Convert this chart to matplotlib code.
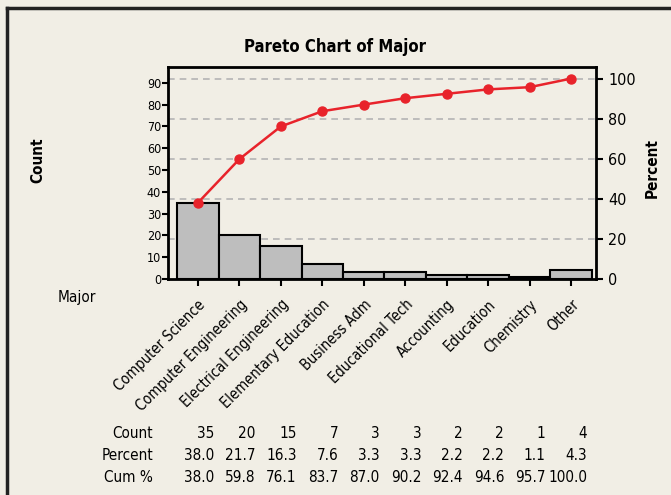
import matplotlib
matplotlib.use("Agg")
import matplotlib.pyplot as plt
import numpy as np

majors = ["Computer Science", "Computer Engineering", "Electrical Engineering",
          "Elementary Education", "Business Adm", "Educational Tech",
          "Accounting", "Education", "Chemistry", "Other"]
counts = [35, 20, 15, 7, 3, 3, 2, 2, 1, 4]
percent = [38.0, 21.7, 16.3, 7.6, 3.3, 3.3, 2.2, 2.2, 1.1, 4.3]
cum_pct = [38.0, 59.8, 76.1, 83.7, 87.0, 90.2, 92.4, 94.6, 95.7, 100.0]

plt.rcParams['font.family'] = ['DejaVu Sans']
plt.rcParams['font.stretch'] = 'condensed'
bg = "#f1eee5"
red = "#e8232b"

fig = plt.figure(figsize=(6.71, 4.95), dpi=100, facecolor=bg)
ax = fig.add_axes([0.2504, 0.4364, 0.6378, 0.4282])

total = sum(counts)
x = np.arange(len(counts))
ax.bar(x, counts, width=1.0, color="#bebebe", edgecolor="black", linewidth=1.5, zorder=2)
ax.set_xlim(-0.72, 9.6)
ymax = 97.3
ax.set_ylim(0, ymax)
ax.set_yticks(range(0, 91, 10))
ax.tick_params(axis="y", labelsize=9, length=4, width=1.5, pad=1)
ax.set_xticks(x)
ax.set_xticklabels(majors, rotation=45, ha="right", va="top", rotation_mode="anchor", fontsize=10.5)
ax.tick_params(axis="x", length=5, width=1.5, pad=8)
for s in ax.spines.values():
    s.set_linewidth(2)

ax2 = ax.twinx()
ax2.set_ylim(0, ymax / total * 100)
ax2.set_yticks(range(0, 101, 20))
ax2.tick_params(axis="y", labelsize=11.5, length=5, width=1.5, pad=4)
for yv in range(20, 101, 20):
    ax2.axhline(yv, color="#b4b4b4", linestyle=(0, (4, 3)), linewidth=1.2, zorder=1)
ax.set_zorder(ax2.get_zorder() + 1)
ax.patch.set_visible(False)
ax2.patch.set_facecolor("white")
ax.plot(x, np.array(cum_pct) * total / 100, color=red, linewidth=1.8,
        marker="o", markersize=6.5, zorder=3, clip_on=False)

fig.text(0.5, 0.905, "Pareto Chart of Major", ha="center", va="center",
         fontsize=12, fontweight="bold")
fig.text(0.057, 0.677, "Count", rotation=90, ha="center", va="center",
         fontsize=11, fontweight="bold")
fig.text(0.972, 0.66, "Percent", rotation=90, ha="center", va="center",
         fontsize=11, fontweight="bold")
fig.text(0.115, 0.398, "Major", ha="center", va="center", fontsize=11)

rows = [("Count", [str(c) for c in counts]),
        ("Percent", ["%.1f" % p for p in percent]),
        ("Cum %", ["%.1f" % p for p in cum_pct])]
row_y = [433, 455, 477]
for (label, vals), yp in zip(rows, row_y):
    fy = 1 - yp / 495
    fig.text(153 / 671, fy, label, ha="right", va="center", fontsize=11)
    for i, v in enumerate(vals):
        xd = ax.transData.transform((i, 0))[0]
        fig.text((xd + 16) / 671, fy, v, ha="right", va="center", fontsize=11)

fig.add_artist(plt.Line2D([7 / 671, 7 / 671], [0, 1 - 8 / 495], color="#222222", linewidth=2.5))
fig.add_artist(plt.Line2D([7 / 671, 1], [1 - 8 / 495, 1 - 8 / 495], color="#222222", linewidth=2.5))

fig.savefig("out.png", dpi=100, facecolor=bg)
